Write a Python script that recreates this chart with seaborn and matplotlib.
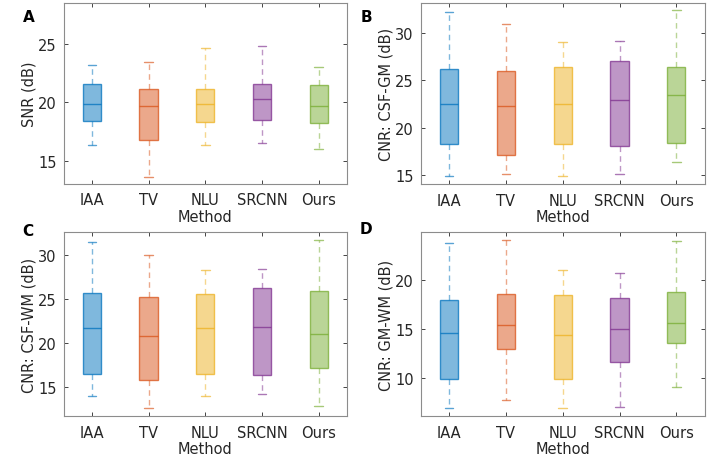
import matplotlib
matplotlib.use("Agg")
import matplotlib.pyplot as plt
import numpy as np
import pandas as pd
import seaborn as sns
from matplotlib.colors import to_rgba

# ------------------------------------------------------------
# Data (box stats): low whisker, Q1, median, Q3, high whisker
# ------------------------------------------------------------
methods = ["IAA", "TV", "NLU", "SRCNN", "Ours"]
colors = ["#0072BD", "#D95319", "#EDB120", "#7E2F8E", "#77AC30"]

snr = [
    [16.36, 18.39, 19.83, 21.60, 23.20],
    [13.64, 16.80, 19.66, 21.10, 23.44],
    [16.36, 18.30, 19.83, 21.10, 24.63],
    [16.55, 18.47, 20.25, 21.60, 24.83],
    [16.02, 18.19, 19.72, 21.50, 23.05],
]
cnr_csf_gm = [
    [14.83, 18.25, 22.47, 26.23, 32.20],
    [15.07, 17.13, 22.33, 26.02, 31.00],
    [14.83, 18.25, 22.54, 26.44, 29.02],
    [15.07, 18.10, 22.89, 27.04, 29.12],
    [16.40, 18.35, 23.40, 26.40, 32.40],
]
cnr_csf_wm = [
    [13.98, 16.48, 21.74, 25.68, 31.48],
    [12.61, 15.87, 20.80, 25.23, 30.00],
    [13.98, 16.48, 21.70, 25.57, 28.30],
    [14.28, 16.36, 21.82, 26.25, 28.41],
    [12.84, 17.16, 21.02, 25.95, 31.70],
]
cnr_gm_wm = [
    [6.94, 9.90, 14.60, 18.03, 23.81],
    [7.76, 12.93, 15.41, 18.57, 24.08],
    [6.94, 9.90, 14.39, 18.47, 21.09],
    [7.04, 11.67, 15.00, 18.16, 20.71],
    [9.12, 13.64, 15.61, 18.84, 24.01],
]

panels = [
    ("A", snr, "SNR (dB)", (13.0, 28.5), [15, 20, 25]),
    ("B", cnr_csf_gm, "CNR: CSF-GM (dB)", (14.0, 33.2), [15, 20, 25, 30]),
    ("C", cnr_csf_wm, "CNR: CSF-WM (dB)", (11.7, 32.6), [15, 20, 25, 30]),
    ("D", cnr_gm_wm, "CNR: GM-WM (dB)", (6.1, 24.9), [10, 15, 20]),
]

# axes rectangles in figure fraction (left, bottom, width, height)
W, H = 708, 456
rects = [
    (63.5 / W, 1 - 185 / H, 283.5 / W, 181 / H),
    (420.7 / W, 1 - 185.3 / H, 284 / W, 181.5 / H),
    (63.5 / W, 1 - 417.3 / H, 283.5 / W, 184 / H),
    (420.7 / W, 1 - 417.3 / H, 284 / W, 184 / H),
]
letter_pos = [(29, 17.5), (366, 17.5), (28, 232), (366, 230)]

sns.set_theme(style="white")
plt.rcParams["font.family"] = ["DejaVu Sans"]

fig = plt.figure(figsize=(W / 100, H / 100), dpi=100)

for (letter, stats, ylabel, ylim, yticks), rect, lp in zip(panels, rects, letter_pos):
    ax = fig.add_axes(rect)
    # five values per group -> quartiles fall exactly on the read-off stats
    df = pd.DataFrame(
        [(m, v) for m, vals in zip(methods, stats) for v in vals],
        columns=["Method", "value"],
    )
    sns.boxplot(
        data=df, x="Method", y="value", hue="Method", order=methods,
        hue_order=methods, palette=colors, whis=np.inf, width=0.32,
        legend=False, ax=ax, linewidth=1.0,
    )

    # MATLAB-ish styling: translucent fill, dashed whiskers
    for cont, col in zip(ax.containers, colors):
        for box in cont.boxes:
            box.set_facecolor(to_rgba(col, 0.5))
            box.set_edgecolor(to_rgba(col, 0.75))
            box.set_linewidth(1.0)
        for med in cont.medians:
            med.set_color(to_rgba(col, 0.75))
            med.set_linewidth(1.0)
        for wh in cont.whiskers:
            wh.set_color(to_rgba(col, 0.5))
            wh.set_linestyle((0, (4, 3)))
            wh.set_linewidth(1.0)
        for cap in cont.caps:
            x0, x1 = cap.get_xdata()
            c = (x0 + x1) / 2
            cap.set_xdata([c - 0.075, c + 0.075])
            cap.set_color(to_rgba(col, 0.65))
            cap.set_linewidth(1.0)

    ax.set_xlim(-0.5, 4.5)
    ax.set_ylim(*ylim)
    ax.set_yticks(yticks)
    ax.set_xlabel("Method", fontsize=10.5, color="#262626", labelpad=1)
    ax.set_ylabel(ylabel, fontsize=10.5, color="#262626", labelpad=1)
    ax.tick_params(axis="both", direction="in", length=3, width=0.6,
                   colors="#262626", labelsize=10.5, top=True, right=True,
                   bottom=True, left=True)
    ax.tick_params(axis="x", pad=6)
    ax.tick_params(axis="y", pad=5)
    for sp in ax.spines.values():
        sp.set_visible(True)
        sp.set_color("#8c8c8c")
        sp.set_linewidth(0.8)

    fig.text(lp[0] / W, 1 - lp[1] / H, letter, fontsize=11, fontweight="bold",
             ha="center", va="center", color="black")

fig.savefig("out.png", dpi=100)
